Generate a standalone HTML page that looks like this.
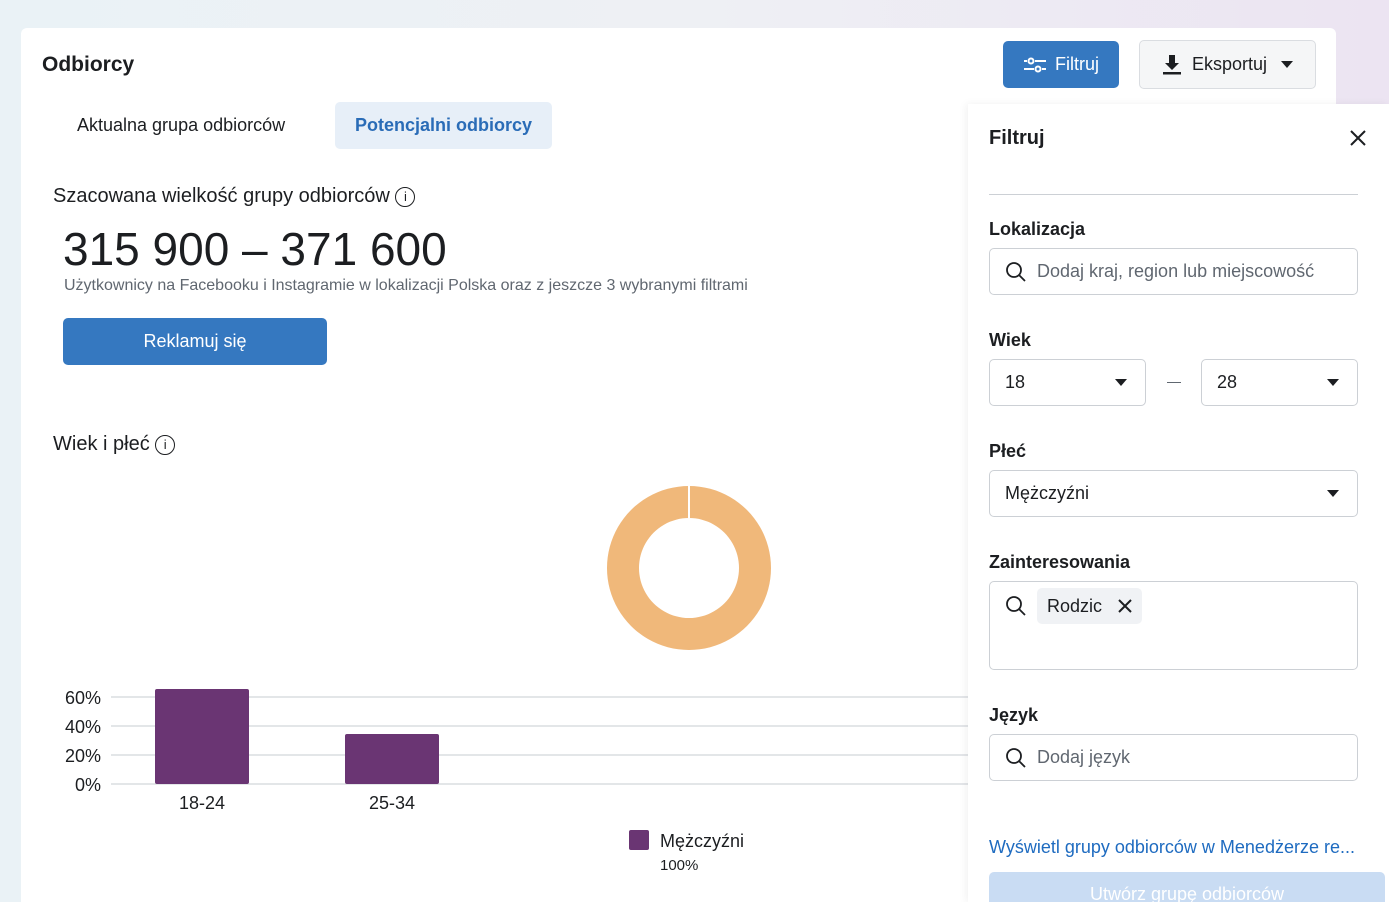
<!DOCTYPE html>
<html style="width:1389px;height:902px;overflow:hidden"><head><meta charset="utf-8">
<style>
*{box-sizing:border-box;margin:0;padding:0}
html,body{overflow:hidden}
body{width:1389px;height:902px;overflow:hidden;font-family:"Liberation Sans",sans-serif;color:#1c1e21;background:linear-gradient(90deg,#eaf2f6 0%,#eef0f4 50%,#ece4f2 100%);position:relative}
.abs{position:absolute}
#card{left:21px;top:28px;width:1315px;height:874px;background:#fff;border-radius:6px 6px 0 0}
.btn{position:absolute;border-radius:5px;display:flex;align-items:center;justify-content:center;font-size:18px;overflow:hidden}
.input{position:absolute;left:989px;width:369px;height:47px;border:1px solid #ccd0d5;border-radius:5px;background:#fff;font-size:18px;display:flex;align-items:center;padding-left:15px}
.lbl{position:absolute;left:989px;font-weight:bold;font-size:18px}
.ph{color:#606770}
</style></head><body>
<div id="card" class="abs"></div>
<div class="abs" style="left:42px;top:53px;font-size:21px;font-weight:bold">Odbiorcy</div>
<div class="btn" style="left:1003px;top:41px;width:116px;height:47px;background:#3578c0;color:#fff">
<svg width="24" height="18" viewBox="0 0 24 18" style="margin-right:8px"><g stroke="#fff" stroke-width="2" fill="none"><line x1="1" y1="5" x2="4" y2="5"/><circle cx="8" cy="5" r="2.5"/><line x1="12" y1="5" x2="23" y2="5"/><line x1="1" y1="13" x2="11" y2="13"/><circle cx="15" cy="13" r="2.5"/><line x1="19" y1="13" x2="23" y2="13"/></g></svg>Filtruj</div>
<div class="btn" style="left:1139px;top:40px;width:177px;height:49px;background:#f5f6f7;border:1px solid #dadde1;color:#1c1e21">
<svg width="20" height="22" viewBox="0 0 20 22" style="margin-right:10px"><path d="M7 1h6v8h4l-7 7-7-7h4z" fill="#1c1e21"/><rect x="1" y="18" width="18" height="2.5" fill="#1c1e21"/></svg>Eksportuj<span style="margin-left:14px;border-left:6px solid transparent;border-right:6px solid transparent;border-top:7px solid #1c1e21"></span></div>
<div class="abs" style="left:77px;top:115px;font-size:18px">Aktualna grupa odbiorców</div>
<div class="btn" style="left:335px;top:102px;width:217px;height:47px;background:#e7eff8;color:#2a6cb7;font-weight:bold">Potencjalni odbiorcy</div>
<div class="abs" style="left:53px;top:185px;font-size:20px">Szacowana wielkość grupy odbiorców <span style="display:inline-block;width:20px;height:20px;border:1.5px solid #1c1e21;border-radius:50%;font-size:13px;text-align:center;line-height:17px;vertical-align:1px">i</span></div>
<div class="abs" style="left:63px;top:222px;font-size:46px">315 900 – 371 600</div>
<div class="abs" style="left:64px;top:277px;font-size:16px;color:#606770">Użytkownicy na Facebooku i Instagramie w lokalizacji Polska oraz z jeszcze 3 wybranymi filtrami</div>
<div class="btn" style="left:63px;top:318px;width:264px;height:47px;background:#3578c0;color:#fff">Reklamuj się</div>
<div class="abs" style="left:53px;top:433px;font-size:20px">Wiek i płeć <span style="display:inline-block;width:20px;height:20px;border:1.5px solid #1c1e21;border-radius:50%;font-size:13px;text-align:center;line-height:17px;vertical-align:1px">i</span></div>

<svg class="abs" style="left:0;top:0" width="968" height="902" id="chart"></svg>

<div class="abs" style="left:968px;top:104px;width:421px;height:798px;background:#fff;box-shadow:-2px 0 8px rgba(0,0,0,0.06)"></div>
<div class="abs" style="left:989px;top:127px;font-size:20px;font-weight:bold">Filtruj</div>
<svg class="abs" style="left:1349px;top:129px" width="18" height="18"><path d="M2 2L16 16M16 2L2 16" stroke="#1c1e21" stroke-width="2"/></svg>
<div class="abs" style="left:989px;top:194px;width:369px;height:1px;background:#ccd0d5"></div>
<div class="lbl" style="top:219px">Lokalizacja</div>
<div class="input" style="top:248px"><svg width="22" height="22" style="margin-right:10px"><circle cx="9" cy="9" r="7" stroke="#1c1e21" stroke-width="1.8" fill="none"/><path d="M14 14l6 6" stroke="#1c1e21" stroke-width="1.8"/></svg><span class="ph">Dodaj kraj, region lub miejscowość</span></div>
<div class="lbl" style="top:330px">Wiek</div>
<div class="input" style="top:359px;width:157px;justify-content:space-between;padding-right:18px">18<span style="border-left:6px solid transparent;border-right:6px solid transparent;border-top:7px solid #1c1e21"></span></div>
<div class="abs" style="left:1167px;top:382px;width:14px;height:1px;background:#606770"></div>
<div class="input" style="top:359px;left:1201px;width:157px;justify-content:space-between;padding-right:18px">28<span style="border-left:6px solid transparent;border-right:6px solid transparent;border-top:7px solid #1c1e21"></span></div>
<div class="lbl" style="top:441px">Płeć</div>
<div class="input" style="top:470px;justify-content:space-between;padding-right:18px">Mężczyźni<span style="border-left:6px solid transparent;border-right:6px solid transparent;border-top:7px solid #1c1e21"></span></div>
<div class="lbl" style="top:552px">Zainteresowania</div>
<div class="input" style="top:581px;height:89px;align-items:flex-start;padding-top:6px"><svg width="22" height="22" style="margin:7px 10px 0 0"><circle cx="9" cy="9" r="7" stroke="#1c1e21" stroke-width="1.8" fill="none"/><path d="M14 14l6 6" stroke="#1c1e21" stroke-width="1.8"/></svg><span style="background:#f0f2f5;border-radius:5px;height:36px;padding:0 10px;display:flex;align-items:center">Rodzic<svg width="14" height="14" style="margin-left:16px"><path d="M1 1L13 13M13 1L1 13" stroke="#1c1e21" stroke-width="2"/></svg></span></div>
<div class="lbl" style="top:705px">Język</div>
<div class="input" style="top:734px"><svg width="22" height="22" style="margin-right:10px"><circle cx="9" cy="9" r="7" stroke="#1c1e21" stroke-width="1.8" fill="none"/><path d="M14 14l6 6" stroke="#1c1e21" stroke-width="1.8"/></svg><span class="ph">Dodaj język</span></div>
<div class="abs" style="left:989px;top:837px;font-size:18px;color:#1e6bc0;white-space:nowrap">Wyświetl grupy odbiorców w Menedżerze re...</div>
<div class="btn" style="left:989px;top:872px;width:396px;height:30px;border-radius:5px 5px 0 0;background:#c9dcf3;color:#fff;align-items:flex-start;padding-top:12px">Utwórz grupę odbiorców</div>

<script>
const categories = ["18-24","25-34"];
const values = [65.5, 34.5];
const ticks = [0,20,40,60];
const tickLabels = ["0%","20%","40%","60%"];
const donutValues = [100];
const legendLabels = ["Mężczyźni"];
const legendValues = ["100%"];

const NS="http://www.w3.org/2000/svg";
const svg=document.getElementById('chart');
function mk(t,a){const e=document.createElementNS(NS,t);for(const k in a)e.setAttribute(k,a[k]);svg.appendChild(e);return e;}
const y0=784, pxPer=1.45;
const y=v=>y0-v*pxPer;
const x=i=>155+i*190;
ticks.forEach((t,i)=>{
  const l=mk('line',{x1:111,x2:968,y1:y(t),y2:y(t),stroke:'#dadde1','stroke-width':1.5});
  
  
  const tx=mk('text',{x:101,y:y(t)+7,'text-anchor':'end','font-size':18,fill:'#1c1e21','font-family':'Liberation Sans'});
  tx.textContent=tickLabels[i];
  
  
});
categories.forEach((c,i)=>{
  const r=mk('rect',{x:x(i),y:y(values[i]),width:94,height:values[i]*pxPer,fill:'#6a3573',rx:2});
  
  
  const tx=mk('text',{x:x(i)+47,y:809,'text-anchor':'middle','font-size':18,fill:'#1c1e21','font-family':'Liberation Sans'});
  tx.textContent=c;
  
  
});
const cx=689,cy=568,R=82,ri=50;
const total=donutValues.reduce((a,b)=>a+b,0);
let ang=0;
const colors=['#f0b87a','#6a3573'];
donutValues.forEach((v,i)=>{
  const frac=v/total;
  const a1=ang, a2=ang+frac*2*Math.PI-0.0001; ang+=frac*2*Math.PI;
  const p=(a,r)=>[cx+r*Math.sin(a),cy-r*Math.cos(a)];
  const big=frac>0.5?1:0;
  const [x1,y1]=p(a1,R),[x2,y2]=p(a2,R),[x3,y3]=p(a2,ri),[x4,y4]=p(a1,ri);
  const path=mk('path',{d:`M${x1} ${y1}A${R} ${R} 0 ${big} 1 ${x2} ${y2}L${x3} ${y3}A${ri} ${ri} 0 ${big} 0 ${x4} ${y4}Z`,fill:colors[i]});
  
  
  const g=mk('line',{x1:p(a1,ri)[0],y1:p(a1,ri)[1],x2:p(a1,R)[0],y2:p(a1,R)[1],stroke:'#fff','stroke-width':2});
  
  
});
legendLabels.forEach((l,i)=>{
  const r=mk('rect',{x:629,y:830+i*40,width:20,height:20,fill:'#6a3573',rx:2});
  
  
  const t=mk('text',{x:660,y:847+i*40,'font-size':18,fill:'#1c1e21','font-family':'Liberation Sans'});
  t.textContent=l;
  
  
  const t2=mk('text',{x:660,y:870+i*40,'font-size':15,fill:'#1c1e21','font-family':'Liberation Sans'});
  t2.textContent=legendValues[i];
  
  
});
</script>
</body></html>
